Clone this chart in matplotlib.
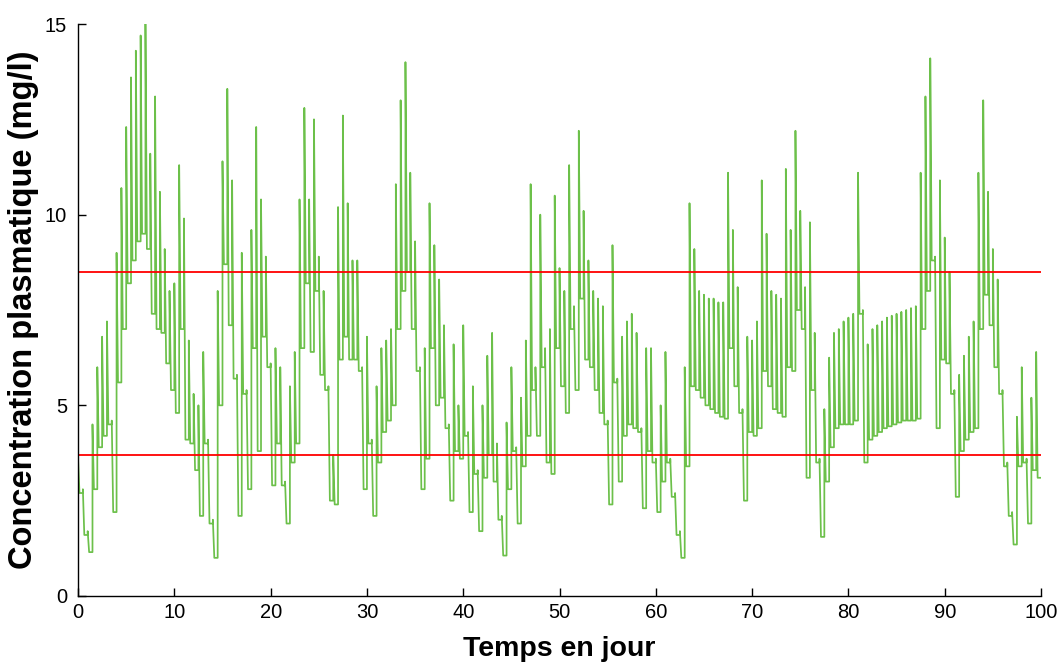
import numpy as np
import matplotlib
matplotlib.use('Agg')
import matplotlib.pyplot as plt

plt.rcParams['font.family'] = ['Liberation Sans', 'DejaVu Sans']

# prise toutes les 12 h (0.5 jour) sur 100 jours
DOSE_INTERVAL = 0.5
# durée de la phase de distribution rapide après chaque prise (jour)
DROP = 0.15

# concentration juste avant chaque prise (mg/l), dernière valeur = fin à J100
trough = [
    0.0, 2.7, 1.6, 1.15, 2.8, 3.9, 4.2, 4.5, 2.2, 5.6, 7.0, 8.2, 8.8, 9.3, 9.5, 9.1, 7.4, 7.0, 6.9, 6.1,
    5.4, 4.8, 7.0, 4.1, 4.0, 3.3, 2.1, 4.0, 1.9, 1.0, 5.0, 8.7, 7.1, 5.7, 2.1, 5.3, 2.8, 6.5, 3.8, 6.8,
    6.0, 2.9, 4.0, 2.9, 1.9, 3.5, 4.0, 6.5, 8.2, 6.4, 8.0, 5.8, 5.4, 2.5, 2.4, 6.2, 6.8, 6.2, 6.2, 5.9,
    2.8, 4.0, 2.1, 3.5, 4.3, 4.6, 5.0, 7.0, 8.0, 8.5, 7.0, 5.9, 2.8, 3.6, 6.5, 5.0, 5.2, 4.4, 2.5, 3.8,
    3.6, 4.2, 2.2, 3.2, 1.7, 3.1, 3.7, 3.0, 2.0, 1.06, 2.8, 3.8, 1.9, 3.4, 4.2, 5.4, 4.2, 6.0, 3.5, 3.2,
    6.5, 5.5, 4.8, 7.0, 5.4, 7.8, 6.2, 6.0, 5.4, 4.8, 4.5, 2.4, 5.6, 3.0, 4.2, 4.5, 4.4, 4.3, 2.3, 3.8,
    3.5, 2.2, 3.0, 3.5, 2.6, 1.6, 1.0, 3.4, 5.5, 5.4, 5.2, 5.0, 4.9, 4.8, 4.7, 4.65, 6.5, 5.5, 4.8, 2.5,
    4.3, 4.2, 4.4, 5.9, 5.5, 4.9, 4.8, 4.7, 6.0, 5.9, 7.5, 7.0, 3.1, 5.4, 3.5, 1.55, 3.0, 3.9, 4.4, 4.5,
    4.5, 4.5, 4.6, 7.4, 3.5, 4.1, 4.2, 4.3, 4.4, 4.45, 4.5, 4.55, 4.6, 4.6, 4.6, 4.65, 7.0, 8.0, 8.8, 4.4,
    6.2, 6.1, 5.3, 2.6, 3.8, 4.1, 4.3, 4.4, 7.0, 7.9, 7.1, 6.0, 5.3, 3.4, 2.1, 1.35, 3.4, 3.5, 1.9, 3.3,
    3.1,
]

# concentration juste après chaque prise (mg/l)
peak = [
    3.6, 2.8, 1.7, 4.5, 6.0, 6.8, 7.2, 4.6, 9.0, 10.7, 12.3, 13.6, 14.3, 14.7, 15.0, 11.6, 13.1, 10.6, 9.1, 8.0,
    8.2, 11.3, 9.9, 6.7, 5.3, 5.0, 6.4, 4.1, 2.0, 8.0, 11.4, 13.3, 10.9, 5.8, 9.0, 5.4, 9.6, 12.3, 10.4, 8.9,
    6.1, 6.5, 6.0, 3.0, 5.5, 6.4, 10.4, 12.8, 10.4, 12.5, 8.9, 8.0, 5.5, 3.7, 10.2, 12.6, 10.3, 8.8, 8.8, 6.0,
    6.8, 4.1, 5.5, 6.5, 6.7, 7.0, 10.8, 13.0, 14.0, 11.1, 9.3, 6.0, 6.5, 10.3, 9.2, 8.3, 7.1, 4.5, 6.6, 5.0,
    7.1, 4.3, 5.5, 3.3, 5.0, 6.3, 6.9, 4.0, 2.1, 4.55, 6.0, 3.9, 5.2, 6.7, 10.8, 6.0, 10.0, 6.5, 7.0, 10.5,
    8.6, 8.0, 11.3, 7.6, 12.2, 10.1, 8.8, 8.0, 7.8, 7.6, 4.6, 9.2, 5.7, 6.8, 7.2, 7.4, 6.9, 4.4, 6.5, 6.5,
    3.6, 5.0, 6.4, 3.6, 2.7, 1.7, 6.0, 10.3, 9.1, 8.0, 7.9, 7.8, 7.8, 7.7, 7.7, 11.1, 9.6, 8.1, 4.9, 6.8,
    6.7, 7.2, 10.9, 9.5, 8.0, 7.9, 7.8, 11.2, 9.6, 12.2, 10.1, 8.1, 9.8, 6.9, 3.6, 4.9, 6.25, 6.9, 7.0, 7.2,
    7.3, 7.4, 11.1, 7.5, 6.6, 7.0, 7.1, 7.2, 7.3, 7.35, 7.4, 7.45, 7.5, 7.55, 7.6, 11.1, 13.1, 14.1, 8.9, 10.9,
    9.4, 8.5, 5.4, 5.8, 6.3, 6.8, 7.2, 11.1, 13.0, 10.6, 9.1, 8.3, 5.4, 3.5, 2.2, 4.7, 6.0, 3.6, 5.2, 6.4,
]

# bornes de la fenêtre thérapeutique (mg/l)
limite_haute = 8.5
limite_basse = 3.7

# dents de scie : montée à la prise, chute rapide, palier jusqu'à la prise suivante
n = len(peak)
t_prise = np.arange(n) * DOSE_INTERVAL
x = np.column_stack([t_prise, t_prise, t_prise + DROP]).ravel()
y = np.column_stack([trough[:-1], peak, trough[1:]]).ravel()
x = np.append(x, n * DOSE_INTERVAL)
y = np.append(y, trough[-1])

fig = plt.figure(figsize=(10.59, 6.71), dpi=100)
ax = fig.add_axes([0.0737, 0.1118, 0.9093, 0.8524])

ax.plot(x, y, color='#6cc04a', linewidth=1.25)
ax.axhline(limite_haute, color='#ff0000', linewidth=1.3)
ax.axhline(limite_basse, color='#ff0000', linewidth=1.3)

ax.set_xlim(0, 100)
ax.set_ylim(0, 15)
ax.set_xticks(np.arange(0, 101, 10))
ax.set_yticks([0, 5, 10, 15])
ax.tick_params(direction='in', length=6, width=1, labelsize=14.5)
ax.tick_params(axis='x', pad=5)
ax.tick_params(axis='y', pad=8)
ax.spines[['top', 'right']].set_visible(False)
for s in ['left', 'bottom']:
    ax.spines[s].set_linewidth(1.0)

ax.set_xlabel('Temps en jour', fontsize=20.5, fontweight='bold', labelpad=10)
ax.set_ylabel('Concentration plasmatique (mg/l)', fontsize=23.5, fontweight='bold', labelpad=4)

plt.savefig('out.png', dpi=100)
